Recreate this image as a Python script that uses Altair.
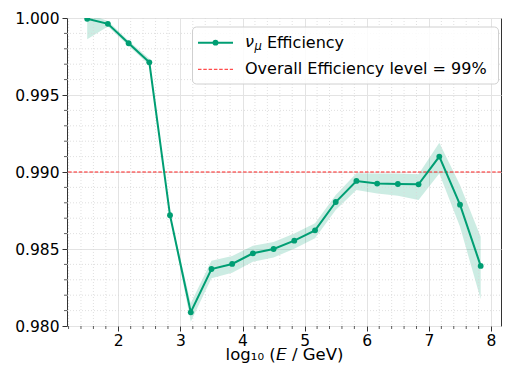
import altair as alt
import pandas as pd

# ---- data ----
log_e = [1.5, 1.833, 2.167, 2.5, 2.833, 3.167, 3.5, 3.833, 4.167, 4.5,
         4.833, 5.167, 5.5, 5.833, 6.167, 6.5, 6.833, 7.167, 7.5, 7.833]
eff = [0.99995, 0.99962, 0.99836, 0.99712, 0.98719, 0.98089, 0.98370, 0.98403, 0.98472, 0.98500,
       0.98554, 0.98621, 0.98805, 0.98942, 0.98925, 0.98922, 0.98920, 0.99100, 0.98788, 0.98390]
eff_lo = [0.99862, 0.99945, 0.99818, 0.99695, 0.98710, 0.98028, 0.98310, 0.98346, 0.98418, 0.98445,
          0.98502, 0.98570, 0.98753, 0.98883, 0.98860, 0.98845, 0.98818, 0.98991, 0.98645, 0.98173]
eff_hi = [1.00030, 0.99980, 0.99852, 0.99735, 0.98730, 0.98147, 0.98424, 0.98455, 0.98521, 0.98545,
          0.98600, 0.98667, 0.98851, 0.98992, 0.98990, 0.98990, 0.98985, 0.99190, 0.98916, 0.98580]
level = [0.99]

x_major = [2, 3, 4, 5, 6, 7, 8]
y_major = [0.980, 0.985, 0.990, 0.995, 1.000]
x_minor = [round(1.2 + 0.2 * i, 1) for i in range(36) if abs((1.2 + 0.2 * i) - round(1.2 + 0.2 * i)) > 1e-6]
y_minor = [round(0.980 + 0.001 * i, 3) for i in range(21) if i % 5 != 0]

GREEN = "#009E73"
FONT = "DejaVu Sans"
W, H = 434, 308
LX = 2  # legend x offset relative to the first layout

df = pd.DataFrame({"x": log_e, "eff": eff, "lo": eff_lo, "hi": eff_hi})
xs = alt.Scale(domain=[1.175, 8.16], nice=False, zero=False)
ys = alt.Scale(domain=[0.98, 1.0], nice=False, zero=False)

x_axis = alt.Axis(values=x_major, format="d", title="log₁₀ (𝘌 / GeV)", grid=True,
                  labelPadding=2, titlePadding=11)
y_axis = alt.Axis(values=y_major, format=".3f", title=None, grid=True)

base = alt.Chart(df)

band = base.mark_area(color=GREEN, opacity=0.2, clip=True).encode(
    x=alt.X("x:Q", scale=xs, axis=x_axis),
    y=alt.Y("lo:Q", scale=ys, axis=y_axis),
    y2="hi:Q",
)

line = base.mark_line(color=GREEN, strokeWidth=2, clip=True).encode(
    x=alt.X("x:Q", scale=xs), y=alt.Y("eff:Q", scale=ys)
)
pts = base.mark_circle(color=GREEN, size=34, opacity=1, clip=True).encode(
    x=alt.X("x:Q", scale=xs), y=alt.Y("eff:Q", scale=ys)
)

xmin_df = pd.DataFrame({"v": x_minor})
ymin_df = pd.DataFrame({"v": y_minor})

xminor_grid = alt.Chart(xmin_df).mark_rule(color="#d8d8d8", strokeWidth=0.8, strokeDash=[1, 2]).encode(
    x=alt.X("v:Q", scale=xs), y=alt.value(0), y2=alt.value(H)
)
yminor_grid = alt.Chart(ymin_df).mark_rule(color="#d8d8d8", strokeWidth=0.8, strokeDash=[1, 2]).encode(
    y=alt.Y("v:Q", scale=ys), x=alt.value(0), x2=alt.value(W)
)
xminor_tick = alt.Chart(xmin_df).mark_rule(color="#333", strokeWidth=0.8).encode(
    x=alt.X("v:Q", scale=xs), y=alt.value(H), y2=alt.value(H + 3)
)
yminor_tick = alt.Chart(ymin_df).mark_rule(color="#333", strokeWidth=0.8).encode(
    y=alt.Y("v:Q", scale=ys), x=alt.value(0), x2=alt.value(-3)
)

ref = alt.Chart(pd.DataFrame({"y": level})).mark_rule(
    color="#ff2020", strokeWidth=1, strokeDash=[3.5, 1.8]
).encode(y=alt.Y("y:Q", scale=ys))

one = pd.DataFrame({"a": [0]})
leg_box = alt.Chart(one).mark_rect(
    fill="white", fillOpacity=0.85, stroke="#d0d0d0", strokeWidth=1, cornerRadius=4
).encode(x=alt.value(123.5 + LX), x2=alt.value(431.5), y=alt.value(9), y2=alt.value(66))
leg_line = alt.Chart(one).mark_rule(color=GREEN, strokeWidth=2).encode(
    x=alt.value(129 + LX), x2=alt.value(164 + LX), y=alt.value(24.7)
)
leg_dot = alt.Chart(one).mark_circle(color=GREEN, size=34, opacity=1).encode(
    x=alt.value(146.5 + LX), y=alt.value(24.7)
)
leg_red = alt.Chart(one).mark_rule(color="#ff2020", strokeWidth=1, strokeDash=[3.5, 1.8]).encode(
    x=alt.value(129 + LX), x2=alt.value(164 + LX), y=alt.value(51.3)
)
leg_nu = alt.Chart(one).mark_text(
    text="ν", font=FONT, fontSize=16, fontStyle="italic", align="left", baseline="middle", color="black"
).encode(x=alt.value(176 + LX), y=alt.value(24))
leg_mu = alt.Chart(one).mark_text(
    text="μ", font=FONT, fontSize=11.5, fontStyle="italic", align="left", baseline="middle", color="black"
).encode(x=alt.value(185.5 + LX), y=alt.value(29))
leg_t1 = alt.Chart(one).mark_text(
    text="Efficiency", font=FONT, fontSize=16, align="left", baseline="middle", color="black"
).encode(x=alt.value(198 + LX), y=alt.value(24.7))
leg_t2 = alt.Chart(one).mark_text(
    text="Overall Efficiency level = 99%", font=FONT, fontSize=16, align="left", baseline="middle", color="black"
).encode(x=alt.value(176 + LX), y=alt.value(51.3))

chart = alt.layer(
    band, xminor_grid, yminor_grid, xminor_tick, yminor_tick, ref, line, pts,
    leg_box, leg_line, leg_dot, leg_red, leg_nu, leg_mu, leg_t1, leg_t2,
).properties(
    width=W, height=H,
    autosize=alt.AutoSizeParams(type="none"),
    padding={"left": 59, "top": 10, "right": 1, "bottom": 38},
).configure_view(
    stroke="#333", strokeWidth=1
).configure_axis(
    labelFont=FONT, labelFontSize=15.5, labelColor="black",
    tickColor="#333", tickSize=5, tickWidth=1, labelPadding=3,
    domain=False, gridColor="#e3e3e3", gridWidth=1,
    titleFont=FONT, titleFontSize=16.5, titleFontWeight="normal", titleColor="black",
    titleBaseline="alphabetic",
)

chart.save("out.html", embed_options={"renderer": "svg", "actions": False})
